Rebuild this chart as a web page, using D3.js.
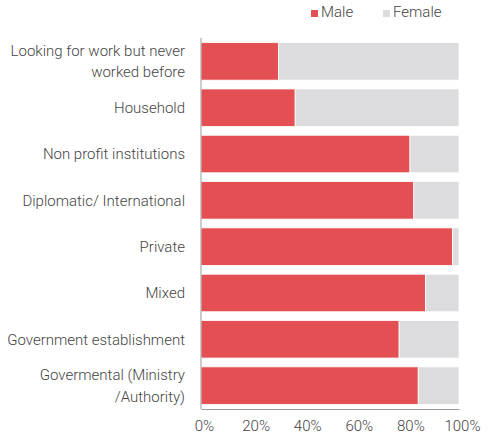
<!DOCTYPE html>
<html lang="en">
<head>
  <meta charset="UTF-8">
  <title>Male / Female share by sector</title>
  <script src="https://d3js.org/d3.v7.min.js"></script>
  <style>
    body {
      margin: 0;
      background: #ffffff;
      font-family: 'Roboto', 'Liberation Sans', sans-serif;
      font-weight: 300;
    }
    text { fill: #444; }
  </style>
</head>
<body>
  <div id="chart"></div>
  <script>
    // Data
    const categories = [
      "Looking for work but never|worked before",
      "Household",
      "Non profit institutions",
      "Diplomatic/ International",
      "Private",
      "Mixed",
      "Government establishment",
      "Govermental (Ministry|/Authority)"
    ];
    const maleShare = [30, 36.5, 81, 82.5, 97.5, 87, 76.8, 84.2];
    const femaleShare = maleShare.map(v => 100 - v);
    const tickValues = [0, 20, 40, 60, 80, 100];
    const seriesNames = ["Male", "Female"];
    const colors = ["#e34f52", "#dcdcde"];

    const width = 493, height = 435;
    const margin = { top: 38, right: 34, bottom: 26, left: 201 };

    const svg = d3.select("#chart").append("svg")
      .attr("width", width)
      .attr("height", height);

    const x = d3.scaleLinear()
      .domain([0, 100])
      .range([margin.left, width - margin.right]);

    const y = d3.scaleBand()
      .domain(categories)
      .range([margin.top, height - margin.bottom])
      .paddingInner(0.19)
      .paddingOuter(0.1);

    const rows = categories.map((c, i) => ({ cat: c, male: maleShare[i], female: femaleShare[i] }));

    // male segment
    svg.append("g").selectAll("rect")
      .data(rows)
      .join("rect")
      .attr("x", x(0))
      .attr("y", d => y(d.cat))
      .attr("width", d => x(d.male) - x(0))
      .attr("height", y.bandwidth())
      .attr("fill", colors[0])
      .attr("stroke", "#fff")
      .attr("stroke-width", 0.8);

    // female segment
    svg.append("g").selectAll("rect")
      .data(rows)
      .join("rect")
      .attr("x", d => x(d.male))
      .attr("y", d => y(d.cat))
      .attr("width", d => x(100) - x(d.male))
      .attr("height", y.bandwidth())
      .attr("fill", colors[1])
      .attr("stroke", "#fff")
      .attr("stroke-width", 0.8);

    // category labels (split on |)
    const labels = svg.append("g").selectAll("text")
      .data(rows)
      .join("text")
      .attr("x", margin.left - 16)
      .attr("text-anchor", "end")
      .attr("font-size", 15)
      .attr("y", d => y(d.cat) + y.bandwidth() / 2);

    labels.each(function (d) {
      const parts = d.cat.split("|");
      const t = d3.select(this);
      parts.forEach((p, i) => {
        t.append("tspan")
          .attr("x", margin.left - 16)
          .attr("dy", i === 0 ? (parts.length === 1 ? "0.35em" : "-0.38em") : "1.45em")
          .text(p);
      });
    });

    // left axis line
    svg.append("line")
      .attr("x1", x(0)).attr("x2", x(0))
      .attr("y1", margin.top).attr("y2", height - margin.bottom)
      .attr("stroke", "#999").attr("stroke-width", 1);

    // bottom axis
    const xAxis = svg.append("g")
      .attr("transform", `translate(0,${height - margin.bottom})`)
      .call(d3.axisBottom(x).tickValues(tickValues).tickFormat(d => d + "%").tickSize(0).tickPadding(11));
    xAxis.select(".domain").attr("stroke", "#999");
    xAxis.selectAll("text")
      .attr("font-size", 15)
      .attr("font-family", "Roboto, 'Liberation Sans', sans-serif")
      .attr("fill", "#444")
      .attr("dx", 3);

    // legend
    const legend = svg.append("g").attr("transform", "translate(311,0)");
    const legendX = [0, 72];
    seriesNames.forEach((name, i) => {
      legend.append("rect")
        .attr("x", legendX[i]).attr("y", 10)
        .attr("width", 7).attr("height", 7)
        .attr("fill", colors[i]);
      legend.append("text")
        .attr("x", legendX[i] + 10).attr("y", 17)
        .attr("font-size", 15)
        .text(name);
    });
  </script>
</body>
</html>
